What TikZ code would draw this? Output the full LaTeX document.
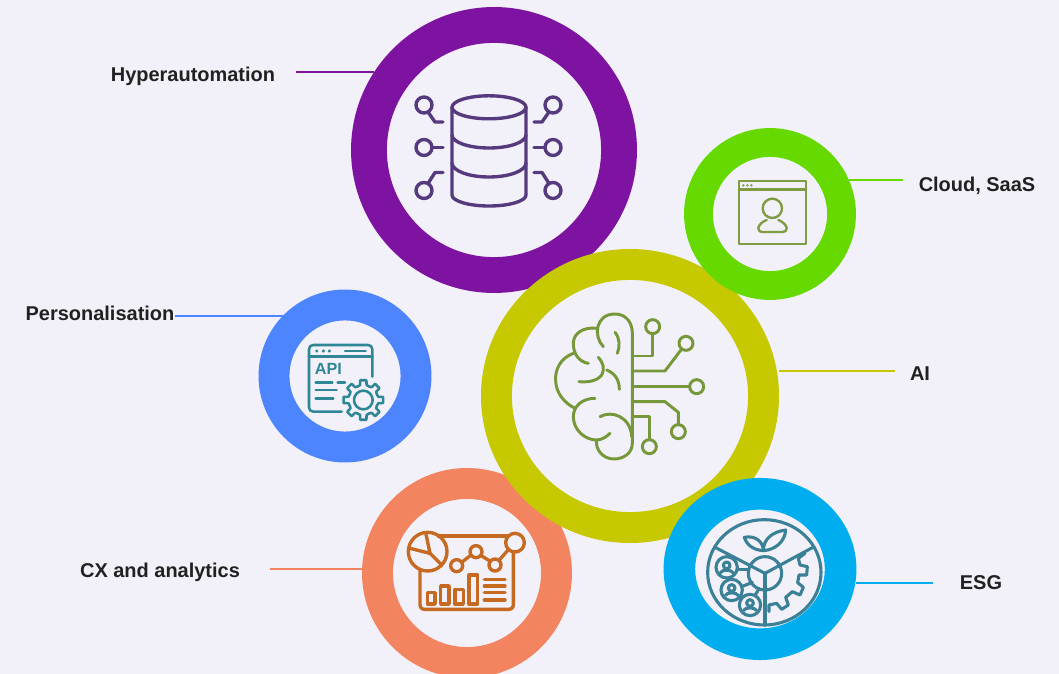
\documentclass[tikz,border=0pt]{standalone}
\usepackage{fontspec}
\setmainfont{Liberation Sans}
\usetikzlibrary{shapes.geometric}
\definecolor{pageBack}{HTML}{F2F1F9}
\definecolor{hyperPurple}{HTML}{7F13A1}
\definecolor{cloudGreen}{HTML}{66DA00}
\definecolor{aiOlive}{HTML}{C6C800}
\definecolor{persBlue}{HTML}{4D84FF}
\definecolor{cxOrange}{HTML}{F2845F}
\definecolor{esgCyan}{HTML}{00AEEF}
\definecolor{hyperIcon}{HTML}{553B7E}
\definecolor{cloudIcon}{HTML}{7F9C42}
\definecolor{aiIcon}{HTML}{76973A}
\definecolor{persIcon}{HTML}{2F8796}
\definecolor{cxIcon}{HTML}{C66A22}
\definecolor{esgIcon}{HTML}{3A8096}
\definecolor{labelText}{HTML}{212121}

\begin{document}
\begin{tikzpicture}[
		x=0.025cm, y=-0.025cm,
		every node/.style={align=center},
		ringNode/.style={draw, shape=ellipse, fill=pageBack, inner sep=0pt},
		labelNode/.style={text=labelText, font=\fontsize{14.2}{16}\selectfont\bfseries, inner sep=0pt},
		leader/.style={line width=1.3pt},
		zoomed/.style={x=0.025cm/3, y=-0.025cm/3},
		iconLine/.style={line width=2.1pt, line cap=round, line join=round}
	]
	\fill[pageBack] (0,0) rectangle (1059,674);
	\useasboundingbox (0,0) rectangle (1059,674);

	% Leader ends and labels
	\coordinate (hyperEnd) at (296,72);
	\coordinate (cloudEnd) at (903,180);
	\coordinate (persEnd) at (175,316);
	\coordinate (aiEnd) at (895,371);
	\coordinate (cxEnd) at (270,569);
	\coordinate (esgEnd) at (933,583);
	\node[labelNode] (hyperLabel) at (193,76) {Hyperautomation};
	\node[labelNode] (cloudLabel) at (977,186) {Cloud, SaaS};
	\node[labelNode] (persLabel) at (100,313) {Personalisation};
	\node[labelNode] (aiLabel) at (920,374) {AI};
	\node[labelNode] (cxLabel) at (160,572) {CX and analytics};
	\node[labelNode] (esgLabel) at (981,583) {ESG};

	% Rings
	\node[ringNode, draw=persBlue, line width=22pt, minimum width=3.55cm, minimum height=3.55cm] (persRing) at (345,376) {};
	\node[ringNode, draw=hyperPurple, line width=25.5pt, minimum width=6.25cm, minimum height=6.25cm] (hyperRing) at (494,150) {};
	\node[ringNode, draw=cxOrange, line width=22pt, minimum width=4.475cm, minimum height=4.475cm] (cxRing) at (467,573) {};
	\node[ringNode, draw=aiOlive, line width=22pt, minimum width=6.675cm, minimum height=6.575cm] (aiRing) at (630,396) {};
	\node[ringNode, draw=cloudGreen, line width=20.5pt, minimum width=3.575cm, minimum height=3.575cm] (cloudRing) at (770,214) {};
	\node[ringNode, draw=esgCyan, line width=22.5pt, minimum width=4.03cm, minimum height=3.76cm] (esgRing) at (760,569) {};

	% Leaders
	\draw[leader, hyperPurple] (hyperEnd) -- (hyperEnd -| hyperRing.147);
	\draw[leader, cloudGreen] (cloudEnd) -- (cloudEnd -| cloudRing.23);
	\draw[leader, persBlue] (persEnd) -- (persEnd -| persRing.136);
	\draw[leader, aiOlive] (aiEnd) -- (aiEnd -| aiRing.east);
	\draw[leader, cxOrange] (cxEnd) -- (cxEnd -| cxRing.west);
	\draw[leader, esgCyan] (esgEnd) -- (esgEnd -| esgRing.east);

	% Hyperautomation icon
	\begin{scope}[hyperIcon, iconLine, line width=2.4pt]
		\draw (489,107.3) ellipse [x radius=37, y radius=11.5];
		\draw (452,107.3) -- (452,195) arc [start angle=180, end angle=0, x radius=37, y radius=11] -- (526,107.3);
		\draw (452,135) arc [start angle=180, end angle=0, x radius=37, y radius=13];
		\draw (452,163) arc [start angle=180, end angle=0, x radius=37, y radius=14];
		\foreach \x/\s in {424/1, 553/-1} {
				\draw (\x,105) circle [radius=8];
				\draw (\x,147.5) circle [radius=8];
				\draw (\x,190.5) circle [radius=8];
				\draw (\x+\s*4,112) -- (\x+\s*11,122) -- (\x+\s*19,122);
				\draw (\x+\s*8,147.5) -- (\x+\s*19,147.5);
				\draw (\x+\s*4,183.5) -- (\x+\s*11,172.5) -- (\x+\s*19,172.5);
			}
	\end{scope}

	% Cloud icon
	\begin{scope}[shift={(725,170)}, zoomed, cloudIcon, iconLine, line width=1.7pt]
		\draw (42,33) rectangle (243,222);
		\draw (42,58) -- (243,58);
		\foreach \x in {55,67,79} {\fill (\x,46) circle [radius=4];}
		\draw (142,115) circle [radius=29];
		\draw (125,150) .. controls (105,158) and (100,170) .. (100,175) .. controls (100,183) and (105,186) .. (112,186) -- (172,186) .. controls (180,186) and (185,183) .. (185,175) .. controls (185,170) and (180,158) .. (160,150);
	\end{scope}

	% AI icon
	\begin{scope}[shift={(540,300)}, zoomed, aiIcon, iconLine]
		\draw (190,140) .. controls (160,110) and (165,42) .. (225,42) .. controls (260,42) and (277,70) .. (277,100) -- (277,430) .. controls (277,460) and (250,477) .. (222,477) .. controls (190,477) and (165,450) .. (170,420);
		\draw (170,85) .. controls (130,80) and (100,100) .. (100,130) .. controls (100,160) and (115,185) .. (145,190);
		\draw (100,160) .. controls (60,175) and (45,210) .. (47,240) .. controls (47,280) and (75,310) .. (105,325);
		\draw (165,295) .. controls (125,295) and (100,320) .. (100,350) .. controls (100,390) and (135,420) .. (170,420) .. controls (185,420) and (200,410) .. (210,400);
		\draw (180,350) .. controls (215,330) and (272,350) .. (275,410);
		\draw (225,97) .. controls (240,115) and (240,140) .. (232,160);
		\draw (175,172) .. controls (190,190) and (195,205) .. (185,225) .. controls (170,245) and (140,247) .. (117,245);
		\draw (200,210) .. controls (225,220) and (238,240) .. (238,268);
		\draw (277,168) -- (338,168) -- (338,101);
		\draw (338,80) circle [radius=21];
		\draw (277,213) -- (375,213) -- (425,147);
		\draw (438,130) circle [radius=21];
		\draw (277,260) -- (449,260);
		\draw (470,260) circle [radius=21];
		\draw (277,305) -- (375,305) -- (415,337) -- (415,374);
		\draw (415,395) circle [radius=21];
		\draw (277,350) -- (328,350) -- (328,419);
		\draw (328,440) circle [radius=21];
	\end{scope}

	% Personalisation icon
	\begin{scope}[shift={(295,335)}, zoomed, persIcon, iconLine, line width=1.8pt]
		\draw (140,230) -- (55,230) .. controls (47,230) and (42,225) .. (42,217) -- (42,43) .. controls (42,35) and (47,30) .. (55,30) -- (219,30) .. controls (227,30) and (232,35) .. (232,43) -- (232,125);
		\draw (42,65) -- (232,65);
		\foreach \x in {65,85,103} {\fill (\x,48) circle [radius=5];}
		\draw (150,48) -- (212,48);
		\node[text=persIcon, font=\fontsize{11.5}{12}\selectfont\bfseries, inner sep=0pt] (apiText) at (100,103) {API};
		\draw (62,143) -- (112,143);
		\draw (128,143) -- (150,143);
		\draw (62,165) -- (125,165);
		\draw (62,190) -- (115,190);
		\begin{scope}[shift={(205,195)}]
			\draw (0,0) circle [radius=28];
			\foreach \a in {0,45,...,315} {
					\draw (\a-22.5:44) -- (\a-12:46) -- (\a-9:60) -- (\a+9:60) -- (\a+12:46) -- (\a+22.5:44);
				}
		\end{scope}
	\end{scope}

	% CX icon
	\begin{scope}[shift={(395,520)}, zoomed, cxIcon, iconLine, line width=2.4pt]
		\draw (130,48) -- (340,48);
		\draw (355,95) -- (355,253) .. controls (355,263) and (350,268) .. (340,268) -- (90,268) .. controls (80,268) and (75,263) .. (75,253) -- (75,148);
		\draw (98,95) circle [radius=58];
		\draw (92,38) -- (105,100) -- (45,85);
		\draw (105,100) -- (140,135);
		\draw (185,137) circle [radius=18];
		\draw (243,95) circle [radius=18];
		\draw (300,135) circle [radius=18];
		\draw (360,68) circle [radius=28];
		\draw (200,127) -- (228,105);
		\draw (257,106) -- (286,124);
		\draw (312,121) -- (341,88);
		\draw (97,218) rectangle (120,252);
		\draw (137,198) rectangle (162,252);
		\draw (180,208) rectangle (205,252);
		\draw (222,165) rectangle (248,252);
		\foreach \y in {178,198,218,240} {\draw (268,\y) -- (330,\y);}
	\end{scope}

	% ESG icon
	\begin{scope}[shift={(695,510)}, zoomed, esgIcon, iconLine, line width=2.2pt]
		\draw (208,187) ellipse [x radius=170, y radius=158];
		\draw (210,190) circle [radius=50];
		\draw (210,190) -- (210,345);
		\draw (210,190) -- (62,113);
		\draw (210,190) -- (352,113);
		\draw (205,122) .. controls (175,120) and (155,105) .. (148,82) .. controls (180,75) and (205,95) .. cycle;
		\draw (205,122) .. controls (205,85) and (235,65) .. (272,60) .. controls (270,95) and (240,120) .. cycle;
		\foreach \x/\y in {95/172, 110/240, 165/285} {
				\draw (\x,\y) circle [radius=32];
				\draw (\x,\y-6) circle [radius=10];
				\draw (\x-19,\y+16) .. controls (\x-14,\y+6) and (\x+14,\y+6) .. (\x+19,\y+16);
			}
		\draw (127,178) -- (160,178);
		\draw (140,230) -- (172,217);
		\draw (180,256) -- (192,236);
		\draw (222,305) -- (222,285) -- (245,280) -- (260,298) -- (280,285) -- (272,262) -- (292,245) -- (315,255) -- (325,232) -- (308,218) -- (312,195) -- (335,195) -- (337,170) -- (315,165) -- (310,145) -- (330,130);
	\end{scope}
\end{tikzpicture}
\end{document}
